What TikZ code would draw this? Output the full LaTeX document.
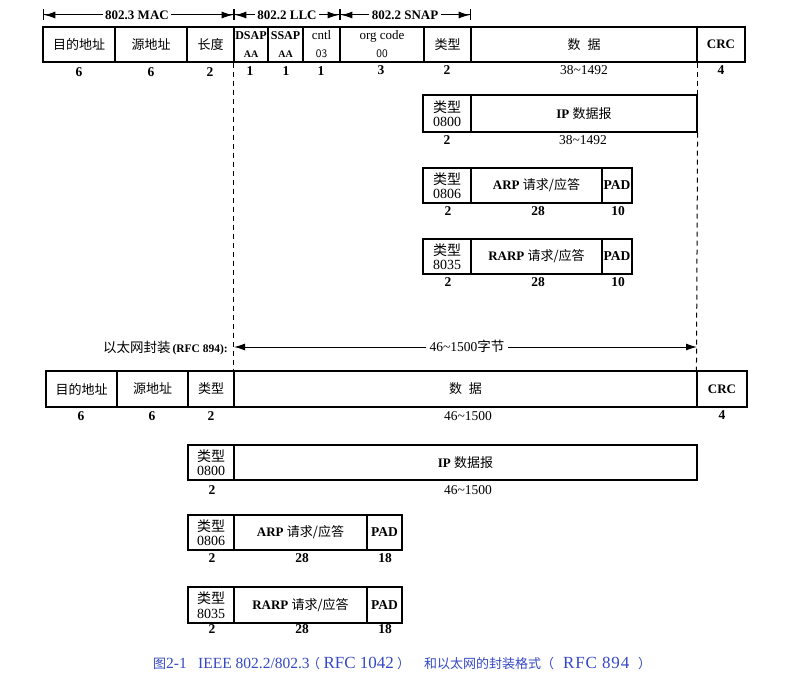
\documentclass[tikz,border=0pt]{standalone}
\usepackage{fontspec}
\setmainfont{Liberation Serif}
\newfontfamily\cjk{Noto Sans CJK SC}
\newfontfamily\capsp[LetterSpace=5]{Liberation Serif}
\usetikzlibrary{arrows.meta}
\newcommand\zh[1]{{\cjk #1}}
\newcommand\zhc[1]{{\cjk\fontsize{13}{15}\selectfont #1}}
\newcommand\tld{\textasciitilde}
\newcommand\fs[2]{\fontsize{#1}{#2}\selectfont}
\newcommand\fieldnode[7][]{\node[fld,minimum width={#4pt-#3pt},minimum height={#6pt-#5pt},#1] (#2) at ({(#3+#4)/2},{(#5+#6)/2}) {#7};}
\definecolor{capblue}{RGB}{52,72,196}
\begin{document}
\begin{tikzpicture}[x=1pt,y=-1pt,
  fld/.style={draw,line width=1.1pt,inner sep=0pt,align=center,font=\fs{13}{15}},
  typ/.style={font=\fs{14}{14.5}},
  sz/.style={font=\bfseries\fs{13.5}{15},inner sep=0pt},
  szr/.style={font=\fs{13.5}{15},inner sep=0pt},
  guide/.style={dash pattern=on 5pt off 4pt,line width=1pt},
  hdr/.style={fill=white,font=\bfseries\fs{13}{15},inner sep=2.5pt},
  tipa/.tip={Latex[length=11pt,width=7pt]},
  tipb/.tip={Bar[width=11pt,line width=1.3pt]},
  dim/.style={line width=1pt,{tipb[]tipa[]}-{tipa[]tipb[]}},
  dimb/.style={line width=1pt,{tipa[]}-{tipa[]}},
  pad/.style={font=\bfseries\fs{13.5}{15}},
  crc/.style={font=\bfseries\fs{13}{15}}]
\useasboundingbox (0,0) rectangle (803,682);
% header
\coordinate (h0) at (43,15);
\coordinate (h1) at (234,15);
\coordinate (h2) at (340,15);
\coordinate (h3) at (471,15);
\draw[dim] (h0) -- (h1);
\draw[dim] (h1) -- (h2);
\draw[dim] (h2) -- (h3);
\node[hdr] (hmac) at (137,15) {802.3 MAC};
\node[hdr] (hllc) at (287,15) {802.2 LLC};
\node[hdr] (hsnap) at (405,15) {802.2 SNAP};
% top row
\fieldnode{t1}{43}{115}{27}{62}{\zh{目的地址}}
\fieldnode{t2}{115}{187}{27}{62}{\zh{源地址}}
\fieldnode{t3}{187}{234}{27}{62}{\zh{长度}}
\fieldnode[font=\fs{12}{18}]{t4}{234}{268}{27}{62}{{\bfseries DSAP}\\{\bfseries\fs{10}{18}AA}}
\fieldnode[font=\fs{12}{18}]{t5}{268}{303}{27}{62}{{\bfseries SSAP}\\{\bfseries\fs{10}{18}AA}}
\fieldnode[font=\fs{13}{18}]{t6}{303}{340}{27}{62}{cntl\\{\sffamily\fs{11.5}{18}03}}
\fieldnode[font=\fs{13}{18}]{t7}{340}{424}{27}{62}{org code\\{\sffamily\fs{11.5}{18}00}}
\fieldnode{t8}{424}{471}{27}{62}{\zh{类型}}
\fieldnode{t9}{471}{697}{27}{62}{\zh{数}\hspace{7pt}\zh{据}}
\fieldnode[crc]{t10}{697}{745}{27}{62}{CRC}
\node[sz] (l1) at (79,72) {6};
\node[sz] (l2) at (151,72) {6};
\node[sz] (l3) at (210,72) {2};
\node[sz] (l4) at (250,71) {1};
\node[sz] (l5) at (286,71) {1};
\node[sz] (l6) at (321,71) {1};
\node[sz] (l7) at (381,70) {3};
\node[sz] (l8) at (447,70) {2};
\node[szr] (l9) at (584,70) {38\tld1492};
\node[sz] (l10) at (721,70) {4};
% middle IP
\fieldnode[typ]{ip1t}{423}{471}{95}{132}{\zh{类型}\\0800}
\fieldnode{ip1d}{471}{697}{95}{132}{{\bfseries IP} \zh{数据报}}
\node[sz] (ip1a) at (447,140) {2};
\node[szr] (ip1b) at (583,140) {38\tld1492};
% middle ARP
\fieldnode[typ]{arp1t}{423}{471}{168}{203}{\zh{类型}\\0806}
\fieldnode{arp1d}{471}{602}{168}{203}{{\bfseries ARP} \zh{请求/应答}}
\fieldnode[pad]{arp1p}{602}{632}{168}{203}{PAD}
\node[sz] (arp1a) at (448,211) {2};
\node[sz] (arp1b) at (538,211) {28};
\node[sz] (arp1c) at (618,211) {10};
% middle RARP
\fieldnode[typ]{rarp1t}{423}{471}{239}{274}{\zh{类型}\\8035}
\fieldnode{rarp1d}{471}{602}{239}{274}{{\bfseries RARP} \zh{请求/应答}}
\fieldnode[pad]{rarp1p}{602}{632}{239}{274}{PAD}
\node[sz] (rarp1a) at (448,282) {2};
\node[sz] (rarp1b) at (538,282) {28};
\node[sz] (rarp1c) at (618,282) {10};
% RFC 894 row
\fieldnode{e1}{46}{117}{371}{407}{\zh{目的地址}}
\fieldnode{e2}{117}{188}{371}{407}{\zh{源地址}}
\fieldnode{e3}{188}{234}{371}{407}{\zh{类型}}
\fieldnode{e4}{234}{697}{371}{407}{\zh{数}\hspace{7pt}\zh{据}}
\fieldnode[crc]{e5}{697}{747}{371}{407}{CRC}
\node[sz] (el1) at (81,416) {6};
\node[sz] (el2) at (152,416) {6};
\node[sz] (el3) at (211,416) {2};
\node[szr] (el4) at (468,416) {46\tld1500};
\node[sz] (el5) at (722,415) {4};
% guides
\draw[guide] (t4.south west) -- (e4.north west);
\draw[guide] (t9.south east) -- (ip1d.north east);
\draw[guide] (ip1d.south east) -- (e5.north west);
% length arrow
\coordinate (a0) at (234,347);
\coordinate (a1) at (697,347);
\draw[dimb] (a0) -- (a1);
\node[fill=white,inner sep=4pt,font=\fs{13.5}{15}] (alen) at (467,346) {46\tld1500\zh{字节}};
\node[anchor=east,inner sep=0pt,font=\fs{13.5}{15}] (encap) at (228,348) {\zh{以太网封装}\hspace{2pt}{\bfseries\fs{11.5}{12}(RFC 894):}};
% lower IP
\fieldnode[typ]{ip2t}{188}{234}{445}{480}{\zh{类型}\\0800}
\fieldnode{ip2d}{234}{697}{445}{480}{{\bfseries IP} \zh{数据报}}
\node[sz] (ip2a) at (212,490) {2};
\node[szr] (ip2b) at (468,490) {46\tld1500};
% lower ARP
\fieldnode[typ]{arp2t}{188}{234}{515}{550}{\zh{类型}\\0806}
\fieldnode{arp2d}{234}{367}{515}{550}{{\bfseries ARP} \zh{请求/应答}}
\fieldnode[pad]{arp2p}{367}{402}{515}{550}{PAD}
\node[sz] (arp2a) at (212,558) {2};
\node[sz] (arp2b) at (302,558) {28};
\node[sz] (arp2c) at (385,558) {18};
% lower RARP
\fieldnode[typ]{rarp2t}{188}{234}{587}{623}{\zh{类型}\\8035}
\fieldnode{rarp2d}{234}{367}{587}{623}{{\bfseries RARP} \zh{请求/应答}}
\fieldnode[pad]{rarp2p}{367}{402}{587}{623}{PAD}
\node[sz] (rarp2a) at (212,629) {2};
\node[sz] (rarp2b) at (302,629) {28};
\node[sz] (rarp2c) at (385,629) {18};
% caption
\node[anchor=west,inner sep=0pt,text=capblue,font=\fs{15.5}{17}] (cap) at (153,663) {\makebox[45pt][l]{\zhc{图}2-1}\makebox[109pt][l]{IEEE 802.2/802.3}\makebox[13pt][c]{\zhc{（}}\makebox[77pt][c]{\fs{17}{17}RFC 1042}\makebox[13pt][c]{\zhc{）}}\makebox[14pt]{}\makebox[117pt][l]{\zhc{和以太网的封装格式}}\makebox[13pt][c]{\zhc{（}}\makebox[84pt][c]{\capsp\fs{17}{17}RFC 894}\makebox[13pt][c]{\zhc{）}}};
\end{tikzpicture}
\end{document}
